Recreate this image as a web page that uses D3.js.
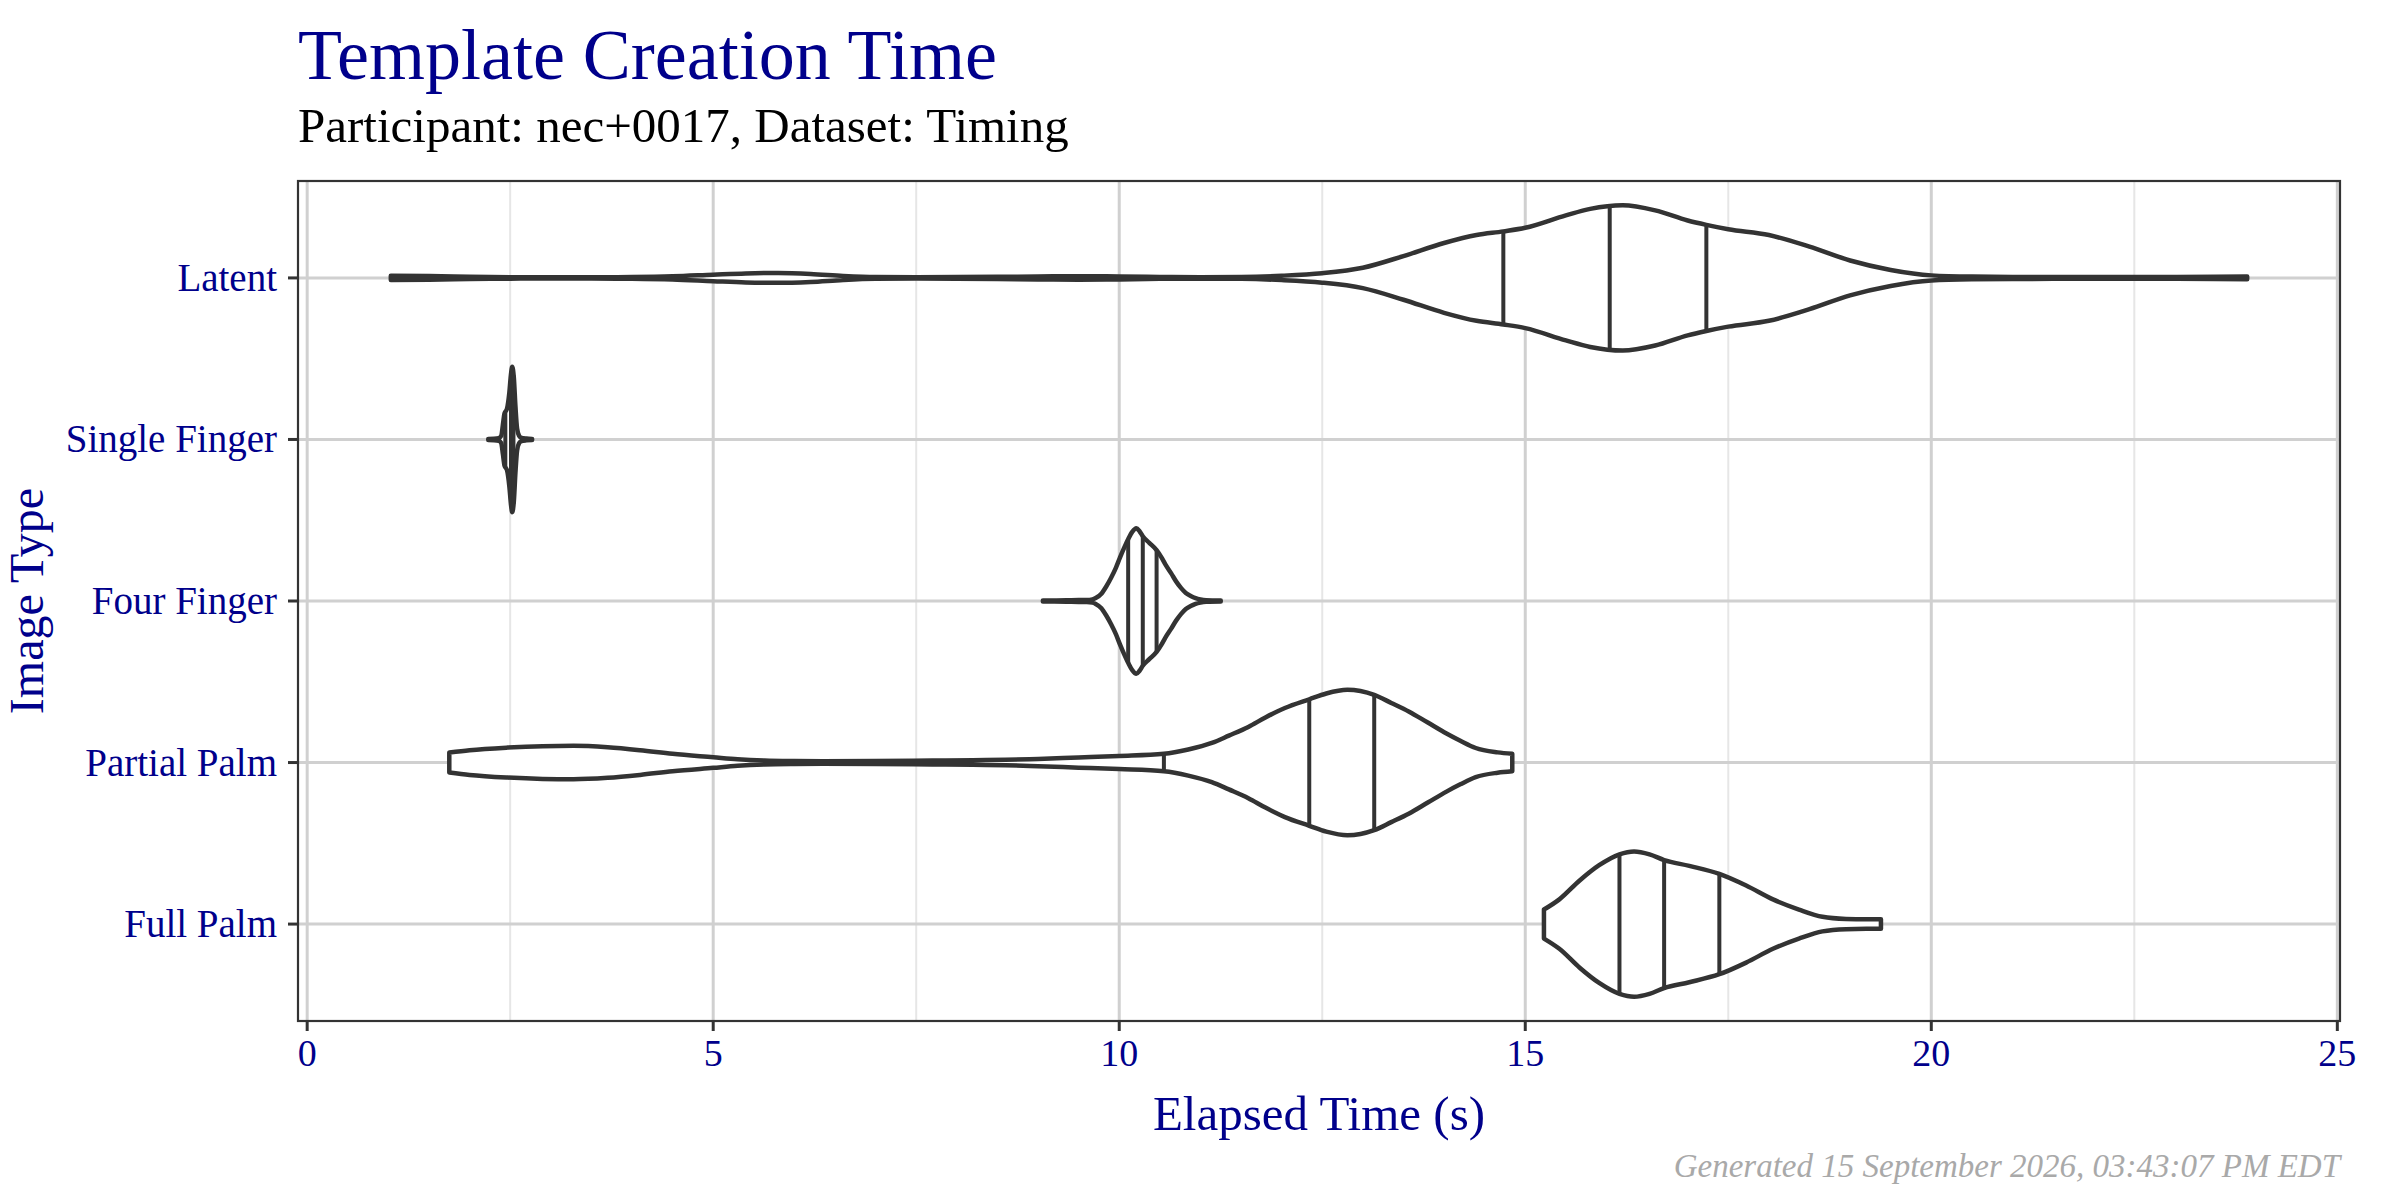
<!DOCTYPE html>
<html>
<head>
<meta charset="utf-8">
<script src="https://cdn.jsdelivr.net/npm/d3@7"></script>
<style>
  html, body { margin: 0; padding: 0; background: #fff; }
  svg { display: block; }
  text { font-family: "Liberation Serif", "DejaVu Serif", serif; }
</style>
</head>
<body>
<svg id="chart" width="2400" height="1200"></svg>
<script>
// ---------------- data ----------------
const categories = ["Latent", "Single Finger", "Four Finger", "Partial Palm", "Full Palm"];

// violin outlines: [elapsed time (s), relative half-width (1 = widest point)]
const densityLatent = [[1.03,0.03],[1.5,0.026],[2.0,0.016],[2.5,0.01],[3.0,0.008],[3.5,0.009],[4.0,0.012],[4.5,0.022],[5.0,0.045],[5.4,0.062],[5.8,0.068],[6.2,0.055],[6.6,0.028],[7.0,0.012],[7.5,0.009],[8.0,0.011],[8.5,0.015],[9.0,0.02],[9.5,0.024],[10.0,0.02],[10.5,0.013],[11.0,0.01],[11.5,0.013],[12.0,0.03],[12.5,0.065],[13.0,0.14],[13.5,0.3],[14.0,0.48],[14.4,0.59],[14.73,0.64],[15.0,0.69],[15.5,0.86],[15.8,0.95],[16.2,1.0],[16.6,0.93],[17.0,0.79],[17.23,0.73],[17.5,0.67],[18.0,0.59],[18.5,0.43],[19.0,0.24],[19.5,0.11],[20.0,0.035],[20.5,0.018],[21.0,0.014],[21.5,0.013],[22.0,0.013],[22.5,0.012],[23.0,0.013],[23.5,0.016],[23.89,0.018]];
const densitySingleFinger = [[2.23,0.008],[2.3,0.01],[2.36,0.018],[2.39,0.05],[2.41,0.2],[2.43,0.36],[2.46,0.42],[2.49,0.65],[2.51,0.9],[2.525,1.0],[2.545,0.85],[2.565,0.45],[2.585,0.15],[2.61,0.05],[2.64,0.022],[2.7,0.012],[2.77,0.008]];
const densityFourFinger = [[9.06,0.008],[9.2,0.008],[9.35,0.01],[9.5,0.014],[9.6,0.014],[9.67,0.022],[9.71,0.04],[9.78,0.1],[9.84,0.2],[9.9,0.32],[9.96,0.46],[10.01,0.6],[10.06,0.73],[10.11,0.85],[10.16,0.95],[10.21,1.0],[10.25,0.96],[10.29,0.89],[10.37,0.8],[10.46,0.7],[10.52,0.6],[10.57,0.5],[10.64,0.38],[10.7,0.27],[10.76,0.18],[10.82,0.11],[10.88,0.07],[10.94,0.04],[11.0,0.022],[11.07,0.012],[11.25,0.008]];
const densityPartialPalm = [[1.75,0.137],[2.0,0.17],[2.47,0.206],[2.9,0.225],[3.28,0.23],[3.7,0.21],[4.1,0.17],[4.5,0.12],[5.0,0.073],[5.3,0.045],[5.63,0.027],[6.0,0.02],[6.35,0.018],[7.0,0.02],[7.7,0.027],[8.2,0.032],[8.6,0.037],[9.0,0.05],[9.5,0.07],[10.0,0.09],[10.55,0.12],[10.85,0.18],[11.14,0.27],[11.35,0.37],[11.59,0.49],[11.8,0.62],[12.04,0.75],[12.34,0.87],[12.55,0.95],[12.81,1.0],[13.14,0.93],[13.35,0.82],[13.57,0.7],[13.8,0.55],[14.03,0.4],[14.2,0.3],[14.39,0.2],[14.66,0.14],[14.84,0.12]];
const densityFullPalm = [[15.23,0.2],[15.42,0.34],[15.67,0.6],[15.91,0.81],[16.16,0.96],[16.34,1.0],[16.53,0.96],[16.71,0.88],[17.02,0.8],[17.39,0.69],[17.72,0.53],[18.05,0.34],[18.37,0.2],[18.66,0.1],[18.95,0.07],[19.2,0.065],[19.38,0.065]];

// quartiles drawn inside each violin (same order as categories)
const quantile25 = [14.73, 2.44, 10.11, 10.55, 16.16];
const quantile50 = [16.04, 2.51, 10.29, 12.34, 16.71];
const quantile75 = [17.23, 2.54, 10.46, 13.14, 17.39];

const xMajorTicks = [0, 5, 10, 15, 20, 25];
const xMinorTicks = [2.5, 7.5, 12.5, 17.5, 22.5];

const titleText = "Template Creation Time";
const subtitleText = "Participant: nec+0017, Dataset: Timing";
const xTitleText = "Elapsed Time (s)";
const yTitleText = "Image Type";
const footerText = "Generated 15 September 2026, 03:43:07 PM EDT";

// ---------------- layout ----------------
const densities = [densityLatent, densitySingleFinger, densityFourFinger, densityPartialPalm, densityFullPalm];
const panel = { left: 298, right: 2340, top: 181, bottom: 1021 };
const ink = "#333333";
const blue = "#00008B";

const svg = d3.select("#chart");

const allX = densities.flat().map(d => d[0]);
const [xmin, xmax] = d3.extent(allX);
const pad = (xmax - xmin) * 0.05;
const x = d3.scaleLinear().domain([xmin - pad, xmax + pad]).range([panel.left, panel.right]);
const y = d3.scalePoint().domain(categories).range([panel.top, panel.bottom]).padding(0.6);
const halfMax = y.step() * 0.45;
const w = d3.scaleLinear().domain([0, 1]).range([0, halfMax]);

// panel background
svg.append("rect").attr("x", panel.left).attr("y", panel.top)
  .attr("width", panel.right - panel.left).attr("height", panel.bottom - panel.top)
  .attr("fill", "#fff");

// grid
const grid = svg.append("g");
grid.selectAll(".minor").data(xMinorTicks).join("line")
  .attr("x1", d => x(d)).attr("x2", d => x(d))
  .attr("y1", panel.top).attr("y2", panel.bottom)
  .attr("stroke", "#E6E6E6").attr("stroke-width", 2);
grid.selectAll(".major").data(xMajorTicks).join("line")
  .attr("x1", d => x(d)).attr("x2", d => x(d))
  .attr("y1", panel.top).attr("y2", panel.bottom)
  .attr("stroke", "#D0D0D0").attr("stroke-width", 3);
grid.selectAll(".hmajor").data(categories).join("line")
  .attr("x1", panel.left).attr("x2", panel.right)
  .attr("y1", d => y(d)).attr("y2", d => y(d))
  .attr("stroke", "#D0D0D0").attr("stroke-width", 3);

// violins
const vg = svg.append("g");
categories.forEach((cat, i) => {
  const data = densities[i];
  const cy = y(cat);
  const area = d3.area()
    .x(d => x(d[0]))
    .y0(d => cy + w(d[1]))
    .y1(d => cy - w(d[1]))
    .curve(d3.curveMonotoneX);
  vg.append("path").datum(data).attr("d", area)
    .attr("fill", "#fff").attr("stroke", ink).attr("stroke-width", 4.5)
    .attr("stroke-linejoin", "round");
  const interp = v => {
    for (let k = 0; k < data.length - 1; k++) {
      const a = data[k], b = data[k + 1];
      if (v >= a[0] && v <= b[0]) return a[1] + (b[1] - a[1]) * (v - a[0]) / (b[0] - a[0]);
    }
    return 0;
  };
  [quantile25[i], quantile50[i], quantile75[i]].forEach(q => {
    const hw = w(interp(q));
    vg.append("line")
      .attr("x1", x(q)).attr("x2", x(q))
      .attr("y1", cy - hw).attr("y2", cy + hw)
      .attr("stroke", ink).attr("stroke-width", 4);
  });
});

// panel border
svg.append("rect").attr("x", panel.left).attr("y", panel.top)
  .attr("width", panel.right - panel.left).attr("height", panel.bottom - panel.top)
  .attr("fill", "none").attr("stroke", ink).attr("stroke-width", 2.2);

// x axis
const xa = svg.append("g");
xa.selectAll("line").data(xMajorTicks).join("line")
  .attr("x1", d => x(d)).attr("x2", d => x(d))
  .attr("y1", panel.bottom).attr("y2", panel.bottom + 10)
  .attr("stroke", ink).attr("stroke-width", 3);
xa.selectAll("text").data(xMajorTicks).join("text")
  .attr("x", d => x(d)).attr("y", 1066)
  .attr("text-anchor", "middle").attr("fill", blue)
  .attr("font-size", 38).text(d => d3.format("d")(d));

// y axis
const ya = svg.append("g");
ya.selectAll("line").data(categories).join("line")
  .attr("x1", panel.left - 10).attr("x2", panel.left)
  .attr("y1", d => y(d)).attr("y2", d => y(d))
  .attr("stroke", ink).attr("stroke-width", 3);
ya.selectAll("text").data(categories).join("text")
  .attr("x", 277).attr("y", d => y(d) + 13)
  .attr("text-anchor", "end").attr("fill", blue)
  .attr("font-size", 39).text(d => d);

// axis titles
svg.append("text").attr("x", (panel.left + panel.right) / 2).attr("y", 1130)
  .attr("text-anchor", "middle").attr("fill", blue).attr("font-size", 49).text(xTitleText);
svg.append("text")
  .attr("transform", `translate(43, ${(panel.top + panel.bottom) / 2}) rotate(-90)`)
  .attr("text-anchor", "middle").attr("fill", blue).attr("font-size", 48).text(yTitleText);

// titles
svg.append("text").attr("x", 298).attr("y", 79)
  .attr("fill", blue).attr("font-size", 72).text(titleText);
svg.append("text").attr("x", 298).attr("y", 142)
  .attr("fill", "#000").attr("font-size", 49).text(subtitleText);

// footer
svg.append("text").attr("x", panel.right).attr("y", 1177)
  .attr("text-anchor", "end").attr("fill", "#A9A9A9").attr("font-style", "italic")
  .attr("font-size", 33).text(footerText);
</script>
</body>
</html>
